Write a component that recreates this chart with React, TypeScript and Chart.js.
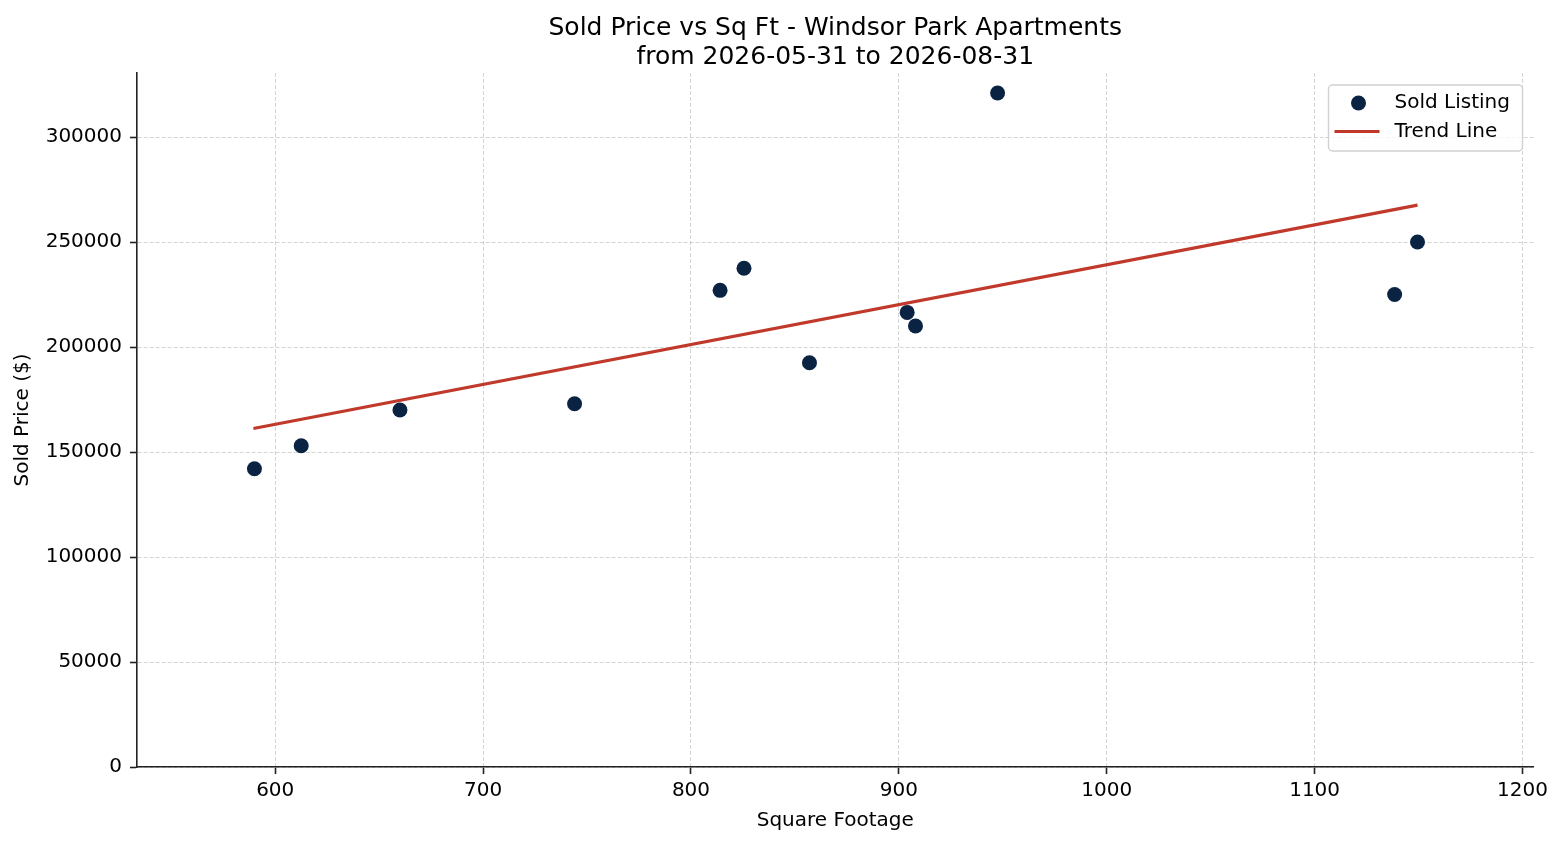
import { Chart, registerables } from "chart.js";
import { useEffect, useRef } from "react";

Chart.register(...registerables);

const sqft = [590, 612.5, 660, 744, 814, 825.5, 857, 904, 908, 947.5, 1138.5, 1149.5];
const soldPrices = [142000, 153000, 170000, 173000, 227000, 237500, 192500, 216500, 210000, 321000, 225000, 250000];
const trendX = [589.5, 1149.5];
const trendY = [161200, 267600];
const xTicks = [600, 700, 800, 900, 1000, 1100, 1200];
const yTicks = [0, 50000, 100000, 150000, 200000, 250000, 300000];

const FONT = "'DejaVu Sans', 'Liberation Sans', sans-serif";
const NAVY = "#0a2342";
const RED = "#c0392b";

// matplotlib-style legend box drawn inside the plot, upper right
const legendBox = {
  id: "legendBox",
  afterDatasetsDraw(chart: any) {
    const { ctx, chartArea } = chart;
    const w = 194;
    const h = 66;
    const x = chartArea.right - 11 - w;
    const y = chartArea.top + 12;
    const labels = chart.data.datasets.map((d: any) => d.label);

    ctx.save();
    ctx.beginPath();
    ctx.roundRect(x, y, w, h, 4);
    ctx.fillStyle = "rgba(255,255,255,0.8)";
    ctx.fill();
    ctx.lineWidth = 1.4;
    ctx.strokeStyle = "rgba(204,204,204,0.9)";
    ctx.stroke();

    ctx.fillStyle = NAVY;
    ctx.beginPath();
    ctx.arc(x + 30, y + 18, 7.5, 0, Math.PI * 2);
    ctx.fill();

    ctx.strokeStyle = RED;
    ctx.lineWidth = 3.2;
    ctx.beginPath();
    ctx.moveTo(x + 6, y + 46.5);
    ctx.lineTo(x + 51, y + 46.5);
    ctx.stroke();

    ctx.fillStyle = "#000";
    ctx.font = `20px ${FONT}`;
    ctx.textAlign = "left";
    ctx.textBaseline = "middle";
    ctx.fillText(labels[0], x + 66, y + 17.5);
    ctx.fillText(labels[1], x + 66, y + 46.5);
    ctx.restore();
  },
};

const App = () => {
  const canvasRef = useRef<HTMLCanvasElement | null>(null);

  useEffect(() => {
    document.body.style.margin = "0";
    if (!canvasRef.current) return;

    const chart = new Chart(canvasRef.current, {
      type: "scatter",
      data: {
        datasets: [
          {
            label: "Sold Listing",
            data: sqft.map((x, i) => ({ x, y: soldPrices[i] })),
            backgroundColor: NAVY,
            borderWidth: 0,
            pointRadius: 7.5,
            pointHoverRadius: 7.5,
            order: 1,
          },
          {
            type: "line",
            label: "Trend Line",
            data: trendX.map((x, i) => ({ x, y: trendY[i] })),
            borderColor: RED,
            borderWidth: 3.2,
            pointRadius: 0,
            showLine: true,
            fill: false,
            order: 2,
          } as any,
        ],
      },
      options: {
        animation: false,
        responsive: false,
        devicePixelRatio: 1,
        events: [],
        layout: { padding: { left: 0, right: 29.5, top: 0, bottom: 0 } },
        plugins: {
          legend: { display: false },
          tooltip: { enabled: false },
          title: {
            display: true,
            fullSize: false,
            text: ["Sold Price vs Sq Ft - Windsor Park Apartments", "from 2026-05-31 to 2026-08-31"],
            color: "#000",
            font: { family: FONT, size: 25, weight: "normal", lineHeight: 1.15 },
            padding: { top: 14.3, bottom: 1.2 },
          },
        },
        scales: {
          x: {
            type: "linear",
            min: 533.5,
            max: 1205.3,
            afterBuildTicks: (scale: any) => {
              scale.ticks = xTicks.map((value) => ({ value }));
            },
            afterFit: (scale: any) => {
              scale.height = 78;
            },
            ticks: {
              color: "#000",
              font: { family: FONT, size: 20 },
              padding: 5,
              maxRotation: 0,
              autoSkip: false,
              callback: (v: any) => String(v),
            },
            grid: {
              color: "rgba(176,176,176,0.55)",
              lineWidth: 1,
              tickLength: 7,
              tickColor: "#222",
              tickWidth: 1.6,
              tickBorderDash: [],
            },
            border: { display: true, color: "#222", width: 1.6, dash: [4, 2] },
            title: {
              display: true,
              text: "Square Footage",
              color: "#000",
              font: { family: FONT, size: 20, lineHeight: 1.2 },
              padding: { top: 0, bottom: 12 },
            },
          },
          y: {
            type: "linear",
            min: 0,
            max: 330500,
            afterBuildTicks: (scale: any) => {
              scale.ticks = yTicks.map((value) => ({ value }));
            },
            afterFit: (scale: any) => {
              scale.width = 137;
            },
            ticks: {
              color: "#000",
              font: { family: FONT, size: 20 },
              padding: 8,
              autoSkip: false,
              callback: (v: any) => String(v),
            },
            grid: {
              color: "rgba(176,176,176,0.55)",
              lineWidth: 1,
              tickLength: 7,
              tickColor: "#222",
              tickWidth: 1.6,
              tickBorderDash: [],
            },
            border: { display: true, color: "#222", width: 1.6, dash: [4, 2] },
            title: {
              display: true,
              text: "Sold Price ($)",
              color: "#000",
              font: { family: FONT, size: 20, lineHeight: 1.2 },
              padding: { top: 10.5, bottom: 0 },
            },
          },
        },
      },
      plugins: [legendBox],
    });

    return () => {
      chart.destroy();
    };
  }, []);

  return (
    <div style={{ width: 1563, height: 845 }}>
      <canvas ref={canvasRef} width={1563} height={845} style={{ display: "block" }}></canvas>
    </div>
  );
};

export default App;
